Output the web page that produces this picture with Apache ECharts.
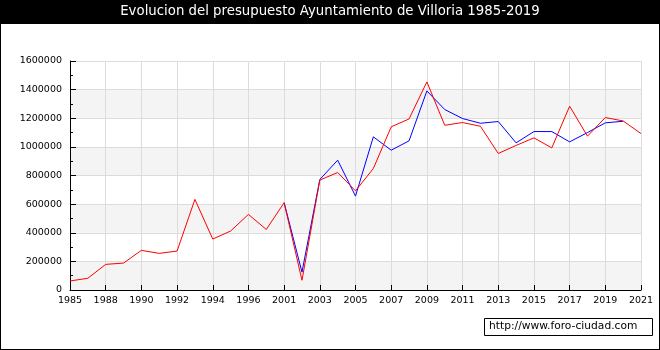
<!DOCTYPE html>
<html>
<head>
<meta charset="utf-8">
<script src="https://cdn.jsdelivr.net/npm/echarts@6/dist/echarts.min.js"></script>
<style>
  html, body { margin: 0; padding: 0; background: #fff; }
  #chart { width: 660px; height: 350px; box-sizing: border-box; border: 1px solid #000; }
</style>
</head>
<body>
<div id="chart"></div>
<script>
// Years on the horizontal axis (only every other one is labelled)
const years = [
  '1985', '1986', '1988', '1989', '1990', '1991', '1992', '1993', '1994', '1995',
  '1996', '2000', '2001', '2002', '2003', '2004', '2005', '2006', '2007', '2008',
  '2009', '2010', '2011', '2012', '2013', '2014', '2015', '2016', '2017', '2018',
  '2019', '2020', '2021'
];

// Budget (red line)
const presupuestoRojo = [
  63000, 82000, 179000, 188000, 277000, 256000, 272000, 633000, 356000, 412000,
  528000, 423000, 610000, 68000, 768000, 821000, 693000, 849000, 1140000, 1195000,
  1454000, 1151000, 1170000, 1144000, 954000, 1010000, 1063000, 993000, 1284000, 1075000,
  1205000, 1181000, 1093000
];

// Budget (blue line), available from 2001 to 2020
const presupuestoAzul = [
  null, null, null, null, null, null, null, null, null, null,
  null, null, 610000, 125000, 772000, 907000, 656000, 1070000, 977000, 1042000,
  1391000, 1261000, 1198000, 1165000, 1177000, 1028000, 1107000, 1107000, 1035000, 1100000,
  1168000, 1179000, null
];

const yMax = 1600000;
const yStep = 200000;

const chart = echarts.init(document.getElementById('chart'), null, { renderer: 'canvas' });
const font = 'DejaVu Sans';

chart.setOption({
  animation: false,
  backgroundColor: '#fff',
  grid: { left: 69, right: 18, top: 60, bottom: 59 },
  graphic: [
    { type: 'rect', left: 0, top: 0, shape: { width: 660, height: 23 }, style: { fill: '#000' } },
    {
      type: 'text', left: 'center', top: 4,
      style: { text: 'Evolucion del presupuesto Ayuntamiento de Villoria 1985-2019',
               fill: '#fff', font: '13.3px "' + font + '"' }
    },
    {
      type: 'rect', left: 483, top: 317,
      shape: { width: 168, height: 17 },
      style: { fill: '#fff', stroke: '#000', lineWidth: 1 }
    },
    {
      type: 'text', left: 488, top: 320,
      style: { text: 'http://www.foro-ciudad.com', fill: '#000', font: '10.7px "' + font + '"' }
    }
  ],
  xAxis: {
    type: 'category',
    data: years,
    boundaryGap: false,
    axisLine: { lineStyle: { color: '#000', width: 1 } },
    axisTick: { show: true, inside: true, length: 5, interval: 1, lineStyle: { color: '#000' } },
    axisLabel: { interval: 1, color: '#000', fontFamily: font, fontSize: 9.5, margin: 6 },
    splitLine: { show: true, interval: 1, lineStyle: { color: '#dcdcdc', width: 1 } }
  },
  yAxis: {
    type: 'value',
    min: 0,
    max: yMax,
    interval: yStep,
    axisLine: { show: true, lineStyle: { color: '#000', width: 1 } },
    axisTick: { show: true, inside: true, length: 6, lineStyle: { color: '#000' } },
    minorTick: { show: true, splitNumber: 2, length: 3, lineStyle: { color: '#000' } },
    axisLabel: {
      color: '#000', fontFamily: font, fontSize: 9.5, margin: 8,
      formatter: (v) => String(v)
    },
    splitLine: { show: true, lineStyle: { color: '#dcdcdc', width: 1 } },
    splitArea: { show: true, areaStyle: { color: ['#f4f4f4', '#ffffff'] } }
  },
  series: [
    {
      name: 'Azul',
      type: 'line',
      data: presupuestoAzul,
      showSymbol: false,
      connectNulls: false,
      lineStyle: { color: '#0000ff', width: 1 },
      itemStyle: { color: '#0000ff' },
      z: 2
    },
    {
      name: 'Rojo',
      type: 'line',
      data: presupuestoRojo,
      showSymbol: false,
      lineStyle: { color: '#ff0000', width: 1 },
      itemStyle: { color: '#ff0000' },
      z: 3
    }
  ]
});
</script>
</body>
</html>
